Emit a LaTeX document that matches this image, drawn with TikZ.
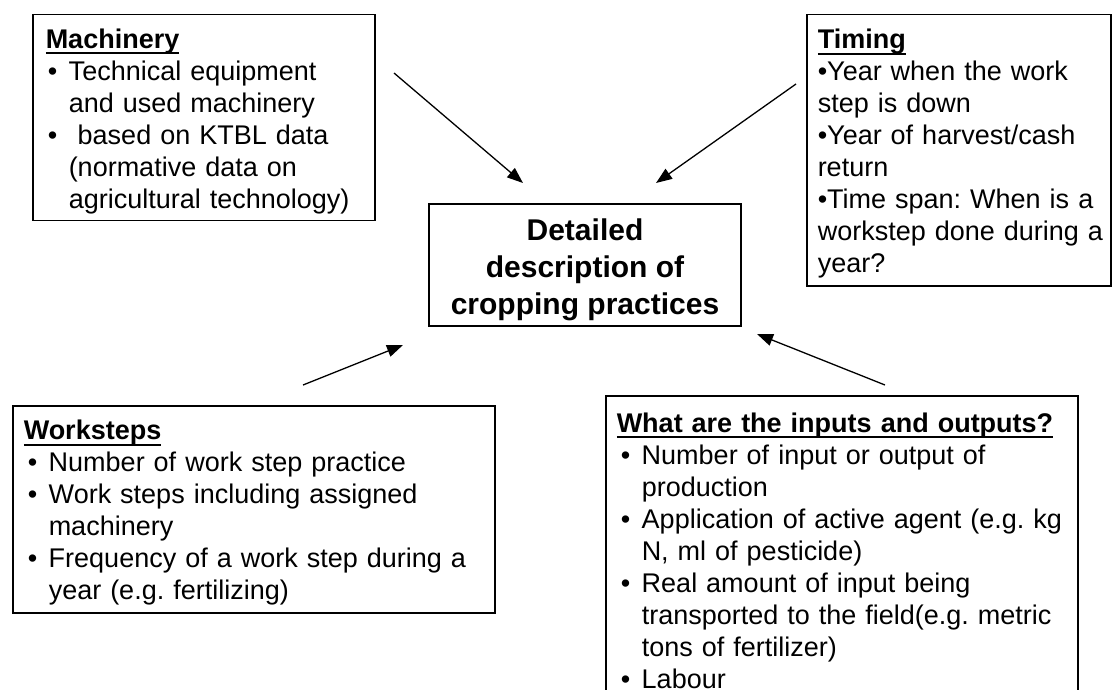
\documentclass[tikz,border=0pt]{standalone}
\usepackage{fontspec}
\setmainfont{Liberation Sans}
\usetikzlibrary{arrows.meta, positioning}

\newsavebox{\headbox}
\newcommand{\heading}[1]{\sbox{\headbox}{\textbf{#1}}\rlap{\rule[-6pt]{\wd\headbox}{2pt}}\usebox{\headbox}}
\newcommand{\bul}{\makebox[25pt][l]{\hspace{4pt}\textbullet}}
\newcommand{\ind}{\hspace*{25pt}}
\newcommand{\topstrut}{\rule{0pt}{27pt}}

\begin{document}
\begin{tikzpicture}[
    x=1pt, y=-1pt,
    infobox/.style={rectangle, draw, line width=1.5pt, anchor=north west, align=left, inner xsep=11pt, inner ysep=0pt, font=\fontsize{27}{32}\selectfont\frenchspacing},
    mainbox/.style={rectangle, draw, line width=1.5pt, align=center, inner sep=0pt, minimum width=312pt, minimum height=122pt, font=\fontsize{30}{37}\selectfont\bfseries},
    arrow/.style={-{Triangle[length=16pt, width=12pt]}, line width=1.3pt}
]
    \useasboundingbox (0,0) rectangle (1112,690);

    \node[mainbox] (crop) at (585,265) {\rule{0pt}{32pt}Detailed\\description of\\cropping practices};

    \node[infobox, text width=320pt, minimum height=206pt] (mach) at (32,14) {\topstrut\hspace{2pt}\heading{Machinery}\\
        \bul Technical equipment\\
        \ind and used machinery\\
        \bul\ based on KTBL data\\
        \ind (normative data on\\
        \ind agricultural technology)};

    \node[infobox, text width=282pt, minimum height=271pt] (timing) at (806,14) {\topstrut\heading{Timing}\\
        \textbullet Year when the work\\
        step is down\\
        \textbullet Year of harvest/cash\\
        return\\
        \textbullet Time span: When is a\\
        \mbox{workstep done during a}\\
        year?};

    \node[infobox, text width=460pt, minimum height=207pt] (worksteps) at (12,405) {\topstrut\heading{Worksteps}\\
        \bul Number of work step practice\\
        \bul Work steps including assigned\\
        \ind machinery\\
        \bul Frequency of a work step during a\\
        \ind year (e.g. fertilizing)};

    \node[infobox, text width=450pt, minimum height=310pt] (inout) at (605,395) {\heading{What are the inputs and outputs?}\\
        \bul Number of input or output of\\
        \ind production\\
        \bul Application of active agent (e.g. kg\\
        \ind N, ml of pesticide)\\
        \bul Real amount of input being\\
        \ind transported to the field(e.g. metric\\
        \ind tons of fertilizer)\\
        \bul Labour};

    \coordinate (machtail) at (394,73);
    \coordinate (machtip) at (523,183);
    \coordinate (timtail) at (796,84);
    \coordinate (timtip) at (656,183);
    \coordinate (worktail) at (303,385);
    \coordinate (worktip) at (403,345);
    \coordinate (iotail) at (885,385);
    \coordinate (iotip) at (757,334);

    \draw[arrow] (machtail) -- (machtip);
    \draw[arrow] (timtail) -- (timtip);
    \draw[arrow] (worktail) -- (worktip);
    \draw[arrow] (iotail) -- (iotip);
\end{tikzpicture}
\end{document}
